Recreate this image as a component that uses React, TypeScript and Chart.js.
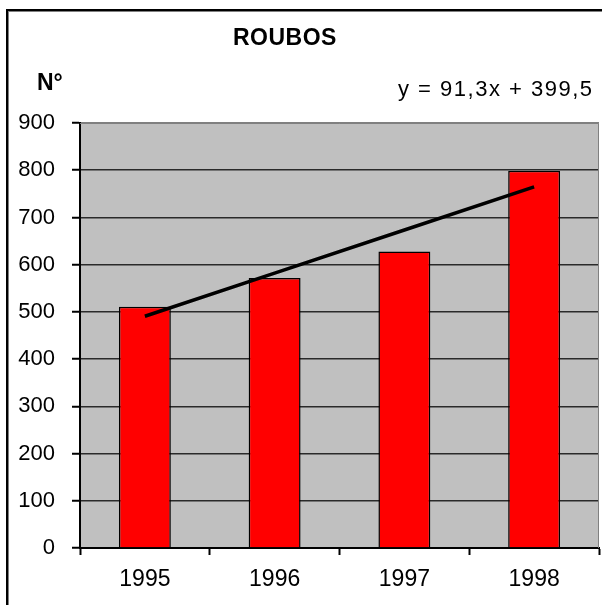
import React, { useEffect, useRef } from "react";
import { Chart, registerables } from "chart.js";

Chart.register(...registerables);

const categories = ["1995", "1996", "1997", "1998"];
const roubos = [511, 572, 628, 799];
const trendValues = [490.8, 582.1, 673.4, 764.7];
const yTicks = [0, 100, 200, 300, 400, 500, 600, 700, 800, 900];
const titleText = "ROUBOS";
const yAxisTitle = "N°";
const equationText = "y = 91,3x + 399,5";

const FONT = "'Liberation Sans', Arial, sans-serif";

const decorPlugin = {
  id: "decor",
  beforeDraw(chart: any) {
    const { ctx, chartArea: a, width, height } = chart;
    ctx.save();
    ctx.fillStyle = "#ffffff";
    ctx.fillRect(0, 0, width, height);
    // outer frame (left + top), black with gray inner shade
    ctx.fillStyle = "#000000";
    ctx.fillRect(6, 9, width - 6, 2);
    ctx.fillRect(6, 9, 2, height - 9);
    ctx.fillStyle = "#808080";
    ctx.fillRect(8, 11, width - 8, 1);
    ctx.fillRect(8, 11, 1, height - 11);
    // plot background
    ctx.fillStyle = "#C0C0C0";
    ctx.fillRect(a.left, a.top, a.right - a.left, a.bottom - a.top);
    ctx.restore();
  },
  beforeDatasetsDraw(chart: any) {
    const { ctx, chartArea: a } = chart;
    ctx.save();
    ctx.strokeStyle = "#808080";
    ctx.lineWidth = 1;
    ctx.beginPath();
    ctx.moveTo(a.left, a.top + 0.5);
    ctx.lineTo(a.right - 0.5, a.top + 0.5);
    ctx.lineTo(a.right - 0.5, a.bottom);
    ctx.stroke();
    ctx.restore();
  },
  afterDraw(chart: any) {
    const { ctx } = chart;
    ctx.save();
    ctx.fillStyle = "#000000";
    ctx.textBaseline = "middle";
    ctx.font = `bold 23px ${FONT}`;
    ctx.textAlign = "left";
    (ctx as any).letterSpacing = "0.5px";
    ctx.fillText(titleText, 233, 39);
    (ctx as any).letterSpacing = "0px";
    ctx.fillText(yAxisTitle, 37, 84);
    ctx.font = `22px ${FONT}`;
    (ctx as any).letterSpacing = "1.5px";
    ctx.fillText(equationText, 398, 90);
    ctx.restore();
  },
};

export default function App() {
  const ref = useRef<HTMLCanvasElement>(null);

  useEffect(() => {
    if (!ref.current) return;
    const chart = new Chart(ref.current, {
      type: "bar",
      data: {
        labels: categories,
        datasets: [
          {
            type: "line",
            label: "Tendência",
            data: trendValues,
            borderColor: "#000000",
            borderWidth: 3.5,
            pointRadius: 0,
            fill: false,
            order: 0,
          } as any,
          {
            type: "bar",
            label: "Roubos",
            data: roubos,
            backgroundColor: "#FF0000",
            borderColor: "#000000",
            borderWidth: 1.5,
            categoryPercentage: 1,
            barPercentage: 0.4,
            order: 1,
          },
        ],
      },
      options: {
        responsive: false,
        animation: false,
        devicePixelRatio: 1,
        layout: { padding: { left: 0, top: 123, right: 3, bottom: 0 } },
        plugins: {
          legend: { display: false },
          title: { display: false },
          tooltip: { enabled: false },
        },
        scales: {
          x: {
            offset: true,
            grid: {
              offset: true,
              drawOnChartArea: false,
              drawTicks: true,
              tickLength: 7,
              tickColor: "#000000",
              tickWidth: 2,
            },
            border: { display: true, color: "#000000", width: 2 },
            ticks: {
              color: "#000000",
              font: { family: FONT, size: 23 },
              padding: 11,
              maxRotation: 0,
            },
            afterFit(scale: any) {
              scale.height = 57;
            },
          },
          y: {
            min: 0,
            max: 900,
            afterBuildTicks(scale: any) {
              scale.ticks = yTicks.map((v) => ({ value: v }));
            },
            grid: {
              color: (c: any) => (c.tick && c.tick.value === 900 ? "#808080" : "#2a2a2a"),
              lineWidth: 1.5,
              tickLength: 8,
              tickColor: "#000000",
              tickWidth: 2,
            },
            border: { display: true, color: "#000000", width: 2 },
            ticks: {
              color: "#000000",
              font: { family: FONT, size: 22 },
              padding: 17,
            },
            afterFit(scale: any) {
              scale.width = 80;
            },
          },
        },
      },
      plugins: [decorPlugin],
    });
    return () => chart.destroy();
  }, []);

  return (
    <div style={{ position: "fixed", left: 0, top: 0, width: 602, height: 605 }}>
      <canvas ref={ref} width={602} height={605} style={{ display: "block" }} />
    </div>
  );
}
